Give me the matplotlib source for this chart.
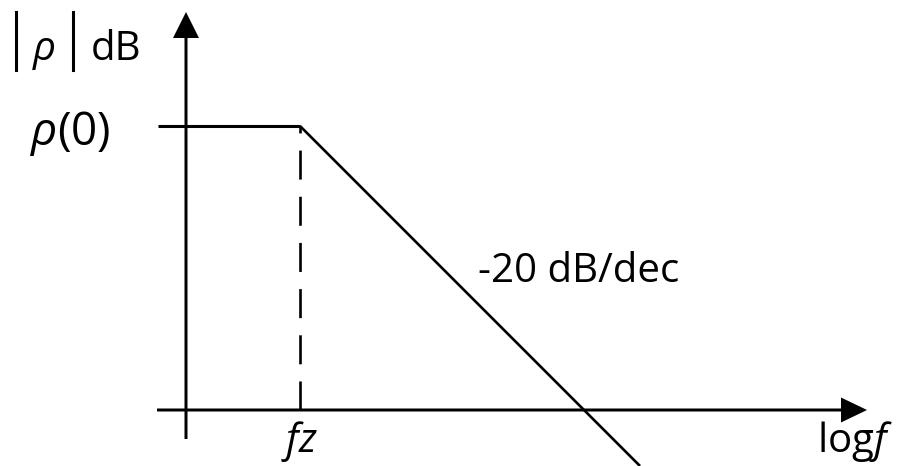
import matplotlib
matplotlib.use("Agg")
import matplotlib.pyplot as plt
import numpy as np

# asymptotic Bode magnitude sketch (units: decades / arbitrary dB scale)
fz = 1.14          # corner frequency position on log f axis
rho0 = 2.84        # low-frequency level rho(0)
slope = -1.0       # -20 dB/dec drawn at 45 degrees
f_start = -0.28
f_end = 4.54

axis_x = [-0.29, 6.81]
axis_y = [-0.29, 3.98]

plt.rcParams["font.family"] = ["Open Sans", "DejaVu Sans"]
plt.rcParams["mathtext.fontset"] = "custom"
plt.rcParams["mathtext.rm"] = "Open Sans"
plt.rcParams["mathtext.it"] = "Open Sans:italic"

fig = plt.figure(figsize=(8.98, 4.66), dpi=100)
ax = fig.add_axes([0, 0, 1, 1])
ax.set_xlim(-1.86, 7.12)
ax.set_ylim(-0.56, 4.10)
ax.axis("off")

lw_axis = 2.2
k = "black"

# axes with arrow heads
ax.arrow(axis_x[0], 0, axis_x[1] - axis_x[0], 0, width=0.03, head_width=0.25,
         head_length=0.26, length_includes_head=True, color=k, lw=0)
ax.arrow(0, axis_y[0], 0, axis_y[1] - axis_y[0], width=0.03, head_width=0.26,
         head_length=0.26, length_includes_head=True, color=k, lw=0)

# flat part and roll-off
f_tail = np.array([fz, f_end])
ax.plot([f_start, fz], [rho0, rho0], color=k, lw=lw_axis, solid_capstyle="butt")
ax.plot(f_tail, rho0 + slope * (f_tail - fz), color=k, lw=1.9, solid_capstyle="butt")

# corner frequency marker
ax.plot([fz, fz], [0, rho0], color=k, lw=1.9, dashes=(11, 6.5))

fs = 29
ax.text(-1.56, 2.76, r"$ρ$(0)", fontsize=33, ha="left", va="center")
ax.text(2.92, 1.38, "-20 dB/dec", fontsize=fs, ha="left", va="center")
ax.text(1.13, -0.425, r"$fz$", fontsize=fs, ha="center", va="baseline")
ax.text(7.07, -0.42, r"log$f$", fontsize=fs, ha="right", va="baseline")

# |rho| dB label
for bx in (-1.70, -1.13):
    ax.plot([bx, bx], [3.40, 3.98], color=k, lw=2.2)
ax.text(-1.545, 3.50, r"$ρ$", fontsize=fs, ha="left", va="baseline")
ax.text(-0.95, 3.50, "dB", fontsize=fs, ha="left", va="baseline")

fig.savefig("out.png", dpi=100)
